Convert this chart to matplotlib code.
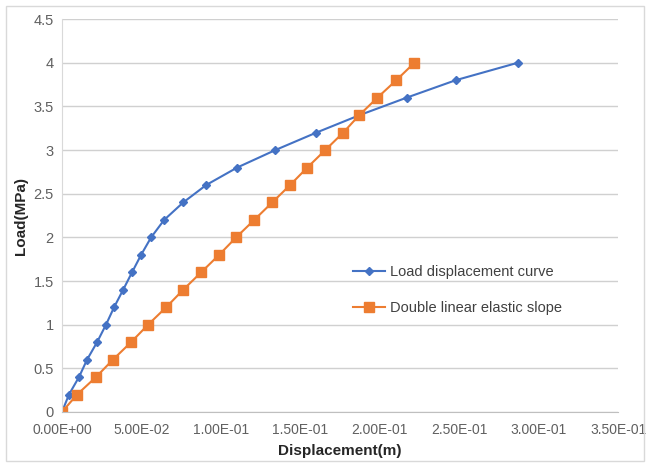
import matplotlib
matplotlib.use('Agg')
import matplotlib.pyplot as plt
from matplotlib.patches import Rectangle

# Load displacement curve (blue)
load_curve = [0, 0.2, 0.4, 0.6, 0.8, 1.0, 1.2, 1.4, 1.6, 1.8, 2.0,
              2.2, 2.4, 2.6, 2.8, 3.0, 3.2, 3.4, 3.6, 3.8, 4.0]
disp_curve = [0, 0.0044, 0.0107, 0.0158, 0.0221, 0.0277, 0.0328, 0.0385, 0.0441, 0.0498, 0.0561,
              0.0643, 0.0763, 0.0908, 0.1103, 0.1343, 0.1601, 0.1873, 0.2169, 0.2478, 0.2869]

# Double linear elastic slope (orange)
load_slope = [0, 0.2, 0.4, 0.6, 0.8, 1.0, 1.2, 1.4, 1.6, 1.8, 2.0,
              2.2, 2.4, 2.6, 2.8, 3.0, 3.2, 3.4, 3.6, 3.8, 4.0]
disp_slope = [0, 0.0095, 0.0214, 0.0321, 0.0435, 0.0542, 0.0656, 0.0763, 0.0876, 0.0989, 0.1096,
              0.1210, 0.1323, 0.1436, 0.1544, 0.1657, 0.1770, 0.1871, 0.1985, 0.2104, 0.2218]

x_ticks = [0, 0.05, 0.10, 0.15, 0.20, 0.25, 0.30, 0.35]
x_labels = ['0.00E+00', '5.00E-02', '1.00E-01', '1.50E-01', '2.00E-01', '2.50E-01', '3.00E-01', '3.50E-01']
y_ticks = [0, 0.5, 1, 1.5, 2, 2.5, 3, 3.5, 4, 4.5]
y_labels = ['0', '0.5', '1', '1.5', '2', '2.5', '3', '3.5', '4', '4.5']

plt.rcParams['font.family'] = ['Liberation Sans', 'DejaVu Sans']

fig = plt.figure(figsize=(6.49, 4.65), dpi=100)
ax = fig.add_axes([0.0955, 0.114, 0.857, 0.845])

ax.plot(disp_curve, load_curve, color='#4472C4', marker='D', markersize=4,
        linewidth=1.5, label='Load displacement curve')
ax.plot(disp_slope, load_slope, color='#ED7D31', marker='s', markersize=6.5,
        linewidth=1.5, label='Double linear elastic slope')

ax.set_xlim(0, 0.35)
ax.set_ylim(0, 4.5)
ax.set_xticks(x_ticks)
ax.set_xticklabels(x_labels)
ax.set_yticks(y_ticks)
ax.set_yticklabels(y_labels)
ax.tick_params(axis='x', length=0, labelsize=10, labelcolor='#606060', pad=8)
ax.tick_params(axis='y', length=0, labelsize=10.5, labelcolor='#606060', pad=6)
ax.grid(axis='y', color='#d0d0d0', linewidth=1)
ax.set_axisbelow(True)
for s in ['top', 'right']:
    ax.spines[s].set_visible(False)
ax.spines['left'].set_color('#d9d9d9')
ax.spines['bottom'].set_color('#bfbfbf')

ax.set_xlabel('Displacement(m)', fontsize=11, fontweight='bold', color='#262626', labelpad=5)
ax.set_ylabel('Load(MPa)', fontsize=11, fontweight='bold', color='#262626', labelpad=4)

ax.legend(loc='center left', bbox_to_anchor=(0.5, 0.31), frameon=False, fontsize=10.5,
          labelspacing=1.55, handlelength=2.2, handletextpad=0.3, labelcolor='#404040')

# outer chart frame
fig.patches.append(Rectangle((6 / 649, 4 / 465), 638 / 649, 455 / 465, transform=fig.transFigure,
                             fill=False, edgecolor='#d9d9d9', linewidth=1))

fig.savefig('out.png', dpi=100)
